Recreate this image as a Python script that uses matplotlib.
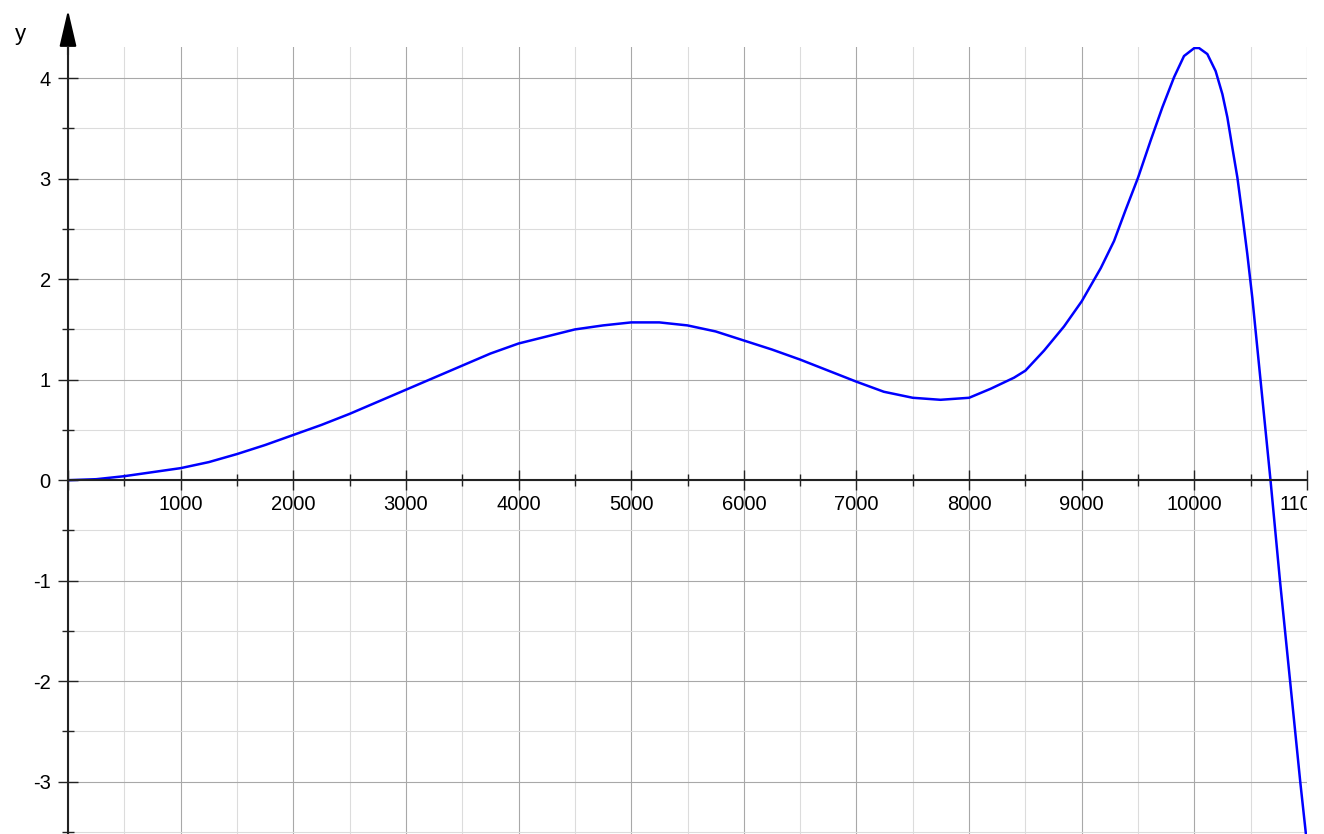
import numpy as np
import matplotlib
matplotlib.use('Agg')
import matplotlib.pyplot as plt
from matplotlib.ticker import MultipleLocator, FixedLocator

# values
x_vals = [0, 250, 500, 750, 1000, 1250, 1500, 1750, 2000, 2250, 2500, 2750,
          3000, 3250, 3500, 3750, 4000, 4250, 4500, 4750, 5000, 5250, 5500,
          5750, 6000, 6250, 6500, 6750, 7000, 7243, 7500, 7746, 8000, 8192,
          8399, 8500, 8666, 8843, 9000, 9169, 9287, 9390, 9500, 9612, 9716,
          9820, 9908, 10000, 10041, 10115, 10189, 10249, 10293, 10337, 10382,
          10426, 10470, 10515, 10587, 10676, 10760, 10850, 10940, 11000]
y_vals = [0.0, 0.01, 0.04, 0.08, 0.12, 0.18, 0.26, 0.35, 0.45, 0.55, 0.66, 0.78,
          0.90, 1.02, 1.14, 1.26, 1.36, 1.43, 1.50, 1.54, 1.57, 1.57, 1.54,
          1.48, 1.39, 1.30, 1.20, 1.09, 0.98, 0.88, 0.82, 0.80, 0.82, 0.91,
          1.02, 1.09, 1.29, 1.53, 1.78, 2.11, 2.38, 2.69, 3.01, 3.38, 3.71,
          4.01, 4.22, 4.30, 4.30, 4.24, 4.07, 3.84, 3.61, 3.31, 3.01,
          2.64, 2.25, 1.81, 1.00, 0.0, -1.0, -2.0, -3.0, -3.62]

x_ticks = list(range(0, 11001, 1000))
x_labels = ['' if t == 0 else str(t) for t in x_ticks]
y_ticks = list(range(-3, 5))
y_labels = [str(t) for t in y_ticks]

plt.rcParams['font.family'] = ['Liberation Sans', 'DejaVu Sans']
plt.rcParams['axes.unicode_minus'] = False

W, H = 1324, 834
fig = plt.figure(figsize=(W / 100, H / 100), dpi=100)
ax = fig.add_axes([68 / W, 0, 1239 / W, 787 / H])

ax.plot(x_vals, y_vals, color='#0000ff', lw=1.8, zorder=3,
        solid_joinstyle='round')
ax.set_xlim(0, 11000)
ax.set_ylim(-3.52, 4.31)

# axes through the origin
for s in ['top', 'right']:
    ax.spines[s].set_visible(False)
ax.spines['left'].set_position(('data', 0))
ax.spines['bottom'].set_position(('data', 0))
for s in ['left', 'bottom']:
    ax.spines[s].set_color('#222222')
    ax.spines[s].set_linewidth(1.5)
    ax.spines[s].set_zorder(4)

ax.xaxis.set_major_locator(FixedLocator(x_ticks))
ax.set_xticklabels(x_labels)
ax.xaxis.set_minor_locator(MultipleLocator(500))
ax.yaxis.set_major_locator(FixedLocator(y_ticks))
ax.set_yticklabels(y_labels)
ax.yaxis.set_minor_locator(MultipleLocator(0.5))

ax.grid(which='major', color='#a8a8a8', lw=0.8)
ax.grid(which='minor', color='#dcdcdc', lw=0.8)
ax.set_axisbelow(True)

ax.tick_params(which='major', direction='inout', length=15, width=1.0,
               color='#222222', labelsize=14.5)
ax.tick_params(which='minor', direction='inout', length=8, width=1.0,
               color='#222222')
ax.tick_params(axis='x', which='major', pad=3)
ax.tick_params(axis='y', which='major', pad=5)

# last x label is cut at the plot edge, like the reference
for lab in ax.get_xticklabels():
    lab.set_clip_box(ax.bbox)
    lab.set_clip_on(True)

# arrow on top of the y axis
ax.annotate('', xy=(0, 1.047), xytext=(0, 0.99),
            xycoords=('data', 'axes fraction'),
            arrowprops=dict(arrowstyle='-|>,head_length=1.5,head_width=0.35',
                            mutation_scale=15, color='black', lw=1.5,
                            shrinkA=0, shrinkB=0),
            annotation_clip=False)

fig.text(20 / W, 1 - 40 / H, 'y', fontsize=16, ha='center', va='baseline')

fig.savefig('out.png', dpi=100)
